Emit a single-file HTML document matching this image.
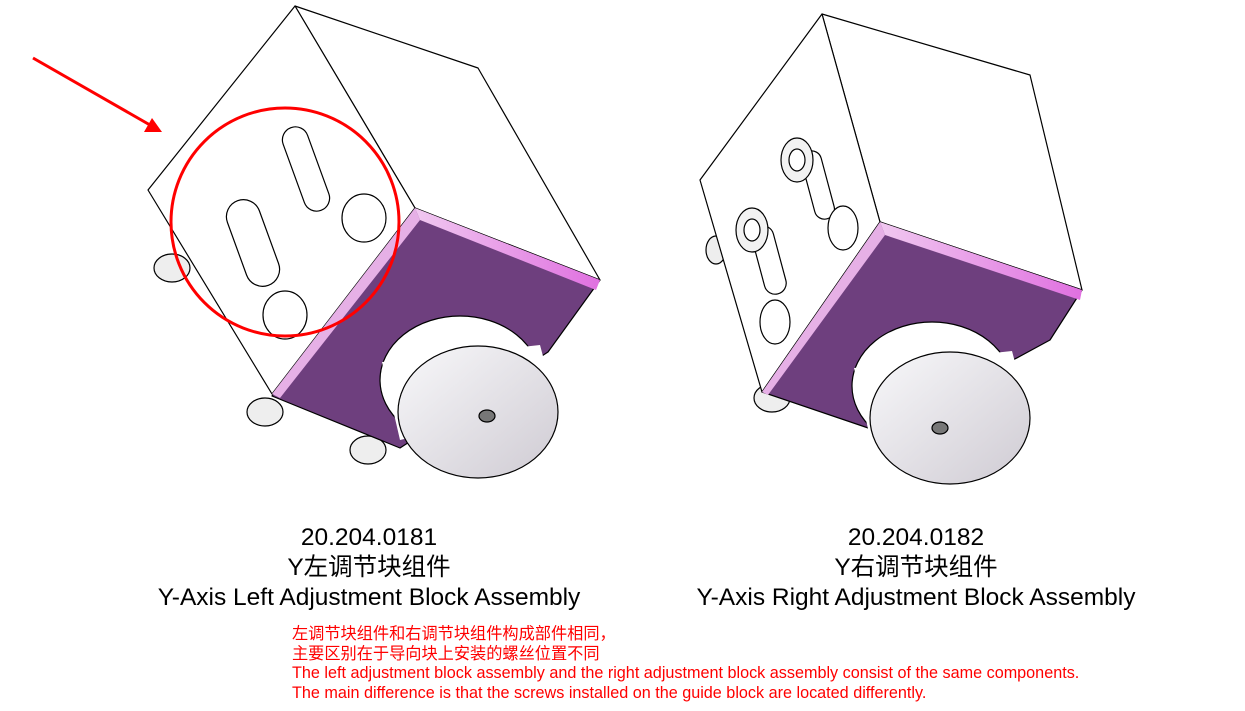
<!DOCTYPE html>
<html><head><meta charset="utf-8">
<style>
html,body{margin:0;padding:0;background:#fff;}
body{width:1245px;height:711px;position:relative;overflow:hidden;font-family:"Liberation Sans","Noto Sans CJK SC",sans-serif;}
.cap{position:absolute;text-align:center;font-size:24.5px;line-height:30px;color:#000;width:700px;}
.note{position:absolute;left:292px;top:625px;font-size:16.2px;line-height:19.5px;color:#f00;white-space:nowrap;}
svg{position:absolute;left:0;top:0;}
</style></head><body>
<svg width="1245" height="711" viewBox="0 0 1245 711">
<defs>
<linearGradient id="cyl" x1="0" y1="0" x2="1" y2="1">
<stop offset="0" stop-color="#f8f8fa"/><stop offset="1" stop-color="#cfcbd3"/></linearGradient>
<linearGradient id="pk" x1="0" y1="0" x2="1" y2="0"><stop offset="0" stop-color="#f0c8f0"/><stop offset="1" stop-color="#e070e0"/></linearGradient>
</defs>
<g stroke="#000" stroke-width="1.2" fill="#fff" stroke-linejoin="round">
<!-- LEFT BLOCK -->
<ellipse cx="172" cy="268" rx="18" ry="14" fill="#eee"/>
<ellipse cx="265" cy="412" rx="18" ry="14" fill="#eee"/>
<ellipse cx="368" cy="450" rx="18" ry="14" fill="#eee"/>
<polygon points="295,6 478,68 600,280 415,208"/>
<polygon points="295,6 415,208 272,394 148,190"/>
<polygon points="415,208 600,280 548,352 400,448 272,396" fill="#6e3f7e"/>
<polygon points="415,208 600,280 596,290 420,220" fill="url(#pk)" stroke="none"/>
<polygon points="415,208 420,220 280,398 272,394" fill="#e6b0e6" stroke="none"/>
<ellipse cx="460" cy="380" rx="80" ry="64"/>
<polygon points="382,362 540,345 556,405 400,440" fill="#fff" stroke="none"/>
<ellipse cx="478" cy="412" rx="80" ry="66" fill="url(#cyl)"/>
<ellipse cx="487" cy="416" rx="8" ry="6" fill="#777"/>
<rect x="293" y="125" width="26" height="88" rx="13" transform="rotate(-20 306 169)"/>
<rect x="236" y="198" width="34" height="90" rx="17" transform="rotate(-20 253 243)"/>
<ellipse cx="364" cy="218" rx="22" ry="24"/>
<ellipse cx="285" cy="315" rx="22" ry="24"/>
<!-- RIGHT BLOCK -->
<ellipse cx="716" cy="250" rx="10" ry="14" fill="#eee"/>
<ellipse cx="772" cy="398" rx="18" ry="14" fill="#eee"/>
<polygon points="822,14 1030,75 1082,290 880,222"/>
<polygon points="822,14 880,222 762,392 700,180"/>
<polygon points="880,222 1082,290 1050,340 880,432 762,392" fill="#6e3f7e"/>
<polygon points="880,222 1082,290 1080,300 885,235" fill="url(#pk)" stroke="none"/>
<polygon points="880,222 885,235 768,395 762,392" fill="#e6b0e6" stroke="none"/>
<ellipse cx="932" cy="386" rx="80" ry="64"/>
<polygon points="854,368 1012,351 1028,411 872,446" fill="#fff" stroke="none"/>
<ellipse cx="950" cy="418" rx="80" ry="66" fill="url(#cyl)"/>
<ellipse cx="940" cy="428" rx="8" ry="6" fill="#777"/>
<rect x="808" y="150" width="20" height="70" rx="10" transform="rotate(-15 818 185)"/>
<rect x="758" y="225" width="22" height="70" rx="11" transform="rotate(-15 769 260)"/>
<ellipse cx="797" cy="160" rx="16" ry="22" fill="#f2f2f2"/>
<ellipse cx="797" cy="160" rx="8" ry="11"/>
<ellipse cx="752" cy="230" rx="16" ry="22" fill="#f2f2f2"/>
<ellipse cx="752" cy="230" rx="8" ry="11"/>
<ellipse cx="843" cy="228" rx="15" ry="22"/>
<ellipse cx="775" cy="322" rx="15" ry="22"/>
</g>
<circle cx="285" cy="222" r="114" fill="none" stroke="#f00" stroke-width="3"/>
<line x1="33" y1="58" x2="150" y2="125" stroke="#f00" stroke-width="3"/>
<polygon points="162,132 144,132 152,118" fill="#f00"/>
</svg>
<div class="cap" style="left:19px;top:523px;">20.204.0181<br>Y左调节块组件<br>Y-Axis Left Adjustment Block Assembly</div>
<div class="cap" style="left:566px;top:523px;">20.204.0182<br>Y右调节块组件<br>Y-Axis Right Adjustment Block Assembly</div>
<div class="note">左调节块组件和右调节块组件构成部件相同，<br>主要区别在于导向块上安装的螺丝位置不同<br>The left adjustment block assembly and the right adjustment block assembly consist of the same components.<br>The main difference is that the screws installed on the guide block are located differently.</div>
</body></html>
